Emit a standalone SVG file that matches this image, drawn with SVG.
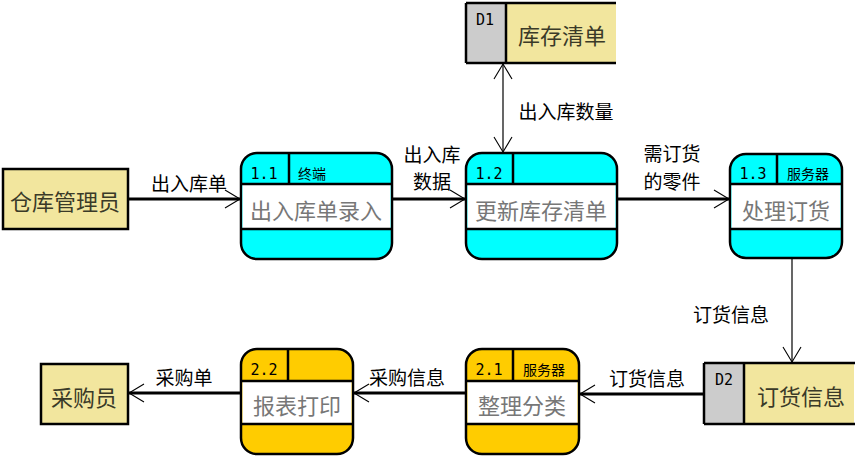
<svg xmlns="http://www.w3.org/2000/svg" width="860" height="462" viewBox="0 0 860 462">
<style>
text{font-family:"Noto Sans CJK SC","Noto Sans",sans-serif;text-anchor:middle}
.lbl{font-size:19px;fill:#000}
.big{font-size:22px;fill:#777}
.ent{font-size:22px;fill:#3a3a28}
.hd{font-size:14px;fill:#000}
.num{font-family:"DejaVu Sans Mono","Liberation Mono",monospace;font-size:15px;fill:#000}
.box{stroke:#000;stroke-width:2.5}
.ln{stroke:#000;stroke-width:2.5;fill:none}
.thick{stroke:#000;stroke-width:3;fill:none}
.thin{stroke:#000;stroke-width:1.2;fill:none}
</style>
<defs>
<marker id="ah" markerUnits="userSpaceOnUse" markerWidth="18" markerHeight="22" refX="15" refY="9" orient="auto-start-reverse" viewBox="-1 -1 18 20">
<path d="M0,0 L15,9 L0,18" fill="none" stroke="#000" stroke-width="1.1"/>
</marker>
</defs>

<g id="connectors">
<line class="thick" x1="128" y1="199" x2="240" y2="199" marker-end="url(#ah)"/>
<line class="thick" x1="392" y1="199" x2="465" y2="199" marker-end="url(#ah)"/>
<line class="thin" x1="503" y1="64" x2="503" y2="152" marker-start="url(#ah)" marker-end="url(#ah)"/>
<line class="thick" x1="617" y1="199" x2="729" y2="199" marker-end="url(#ah)"/>
<line class="thin" x1="792" y1="259" x2="792" y2="362" marker-end="url(#ah)"/>
<line class="thick" x1="704" y1="394" x2="580" y2="394" marker-end="url(#ah)"/>
<line class="thick" x1="466" y1="393" x2="354" y2="393" marker-end="url(#ah)"/>
<line class="thick" x1="241" y1="393" x2="129" y2="393" marker-end="url(#ah)"/>
<text class="lbl" x="189" y="191">出入库单</text>
<text class="lbl" x="432" y="162">出入库</text>
<text class="lbl" x="432" y="189">数据</text>
<text class="lbl" x="566" y="119">出入库数量</text>
<text class="lbl" x="672" y="161">需订货</text>
<text class="lbl" x="672" y="189">的零件</text>
<text class="lbl" x="731" y="322">订货信息</text>
<text class="lbl" x="647" y="386">订货信息</text>
<text class="lbl" x="407" y="385">采购信息</text>
<text class="lbl" x="184" y="385">采购单</text>
</g>

<g id="e-warehouse">
<rect class="box" x="3" y="169" width="125" height="60" fill="#F2E69E"/>
<text class="ent" x="65" y="210">仓库管理员</text>
</g>

<g id="e-buyer">
<rect class="box" x="41" y="364" width="87" height="60" fill="#F2E69E"/>
<text class="ent" x="84" y="406">采购员</text>
</g>

<g id="p11">
<rect class="box" x="241" y="153" width="151" height="106" rx="16" fill="#00FFFF"/>
<rect x="242.5" y="184" width="148" height="45" fill="#fff"/>
<line class="ln" x1="241" y1="184" x2="392" y2="184"/>
<line class="ln" x1="241" y1="229" x2="392" y2="229"/>
<line class="ln" x1="289" y1="153" x2="289" y2="184"/>
<text class="num" x="264" y="179">1.1</text>
<text class="hd" x="312" y="179">终端</text>
<text class="big" x="316" y="219">出入库单录入</text>
</g>

<g id="p12">
<rect class="box" x="466" y="153" width="151" height="106" rx="16" fill="#00FFFF"/>
<rect x="467.5" y="184" width="148" height="45" fill="#fff"/>
<line class="ln" x1="466" y1="184" x2="617" y2="184"/>
<line class="ln" x1="466" y1="229" x2="617" y2="229"/>
<line class="ln" x1="513" y1="153" x2="513" y2="184"/>
<text class="num" x="489" y="179">1.2</text>
<text class="big" x="541" y="219">更新库存清单</text>
</g>

<g id="p13">
<rect class="box" x="730" y="154" width="112" height="104" rx="16" fill="#00FFFF"/>
<rect x="731.5" y="184" width="109" height="45" fill="#fff"/>
<line class="ln" x1="730" y1="184" x2="842" y2="184"/>
<line class="ln" x1="730" y1="229" x2="842" y2="229"/>
<line class="ln" x1="777" y1="154" x2="777" y2="184"/>
<text class="num" x="753" y="179">1.3</text>
<text class="hd" x="808" y="179">服务器</text>
<text class="big" x="786" y="219">处理订货</text>
</g>

<g id="p21">
<rect class="box" x="466" y="349" width="113" height="105" rx="16" fill="#FFCC00"/>
<rect x="467.5" y="381" width="110" height="43" fill="#fff"/>
<line class="ln" x1="466" y1="381" x2="579" y2="381"/>
<line class="ln" x1="466" y1="424" x2="579" y2="424"/>
<line class="ln" x1="513" y1="349" x2="513" y2="381"/>
<text class="num" x="489" y="375">2.1</text>
<text class="hd" x="544" y="375">服务器</text>
<text class="big" x="522" y="414">整理分类</text>
</g>

<g id="p22">
<rect class="box" x="241" y="349" width="112" height="105" rx="16" fill="#FFCC00"/>
<rect x="242.5" y="381" width="109" height="43" fill="#fff"/>
<line class="ln" x1="241" y1="381" x2="353" y2="381"/>
<line class="ln" x1="241" y1="424" x2="353" y2="424"/>
<line class="ln" x1="288" y1="349" x2="288" y2="381"/>
<text class="num" x="264" y="375">2.2</text>
<text class="big" x="297" y="414">报表打印</text>
</g>

<g id="d1">
<rect x="466" y="3" width="40" height="60" fill="#CCCCCC"/>
<rect x="506" y="3" width="110" height="60" fill="#F2E69E"/>
<line class="ln" x1="466" y1="3" x2="616" y2="3"/>
<line class="ln" x1="466" y1="63" x2="616" y2="63"/>
<line class="ln" x1="466" y1="3" x2="466" y2="63"/>
<line class="ln" x1="506" y1="3" x2="506" y2="63"/>
<text class="num" x="485" y="25">D1</text>
<text class="ent" x="562" y="44">库存清单</text>
</g>

<g id="d2">
<rect x="704" y="363" width="40" height="61" fill="#CCCCCC"/>
<rect x="744" y="363" width="110" height="61" fill="#F2E69E"/>
<line class="ln" x1="704" y1="363" x2="855" y2="363"/>
<line class="ln" x1="704" y1="424" x2="855" y2="424"/>
<line class="ln" x1="704" y1="363" x2="704" y2="424"/>
<line class="ln" x1="744" y1="363" x2="744" y2="424"/>
<text class="num" x="724" y="385">D2</text>
<text class="ent" x="801" y="405">订货信息</text>
</g>
</svg>
